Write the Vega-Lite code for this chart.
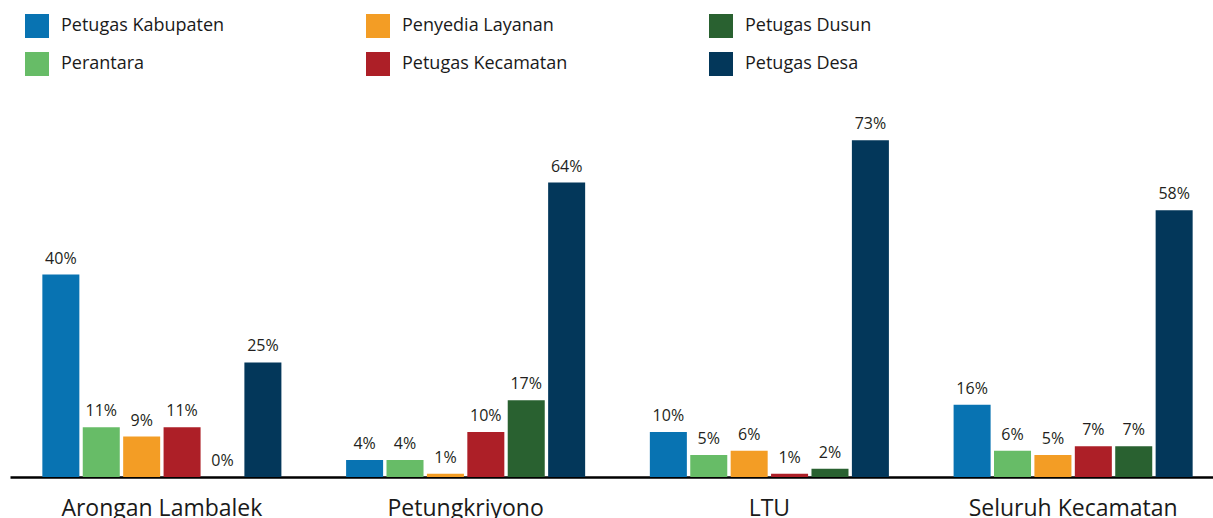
{
  "$schema": "https://vega.github.io/schema/vega-lite/v6.json",
  "width": 1215,
  "height": 368,
  "autosize": {"type": "none"},
  "padding": {"left": 10, "top": 109, "right": 0, "bottom": 41},
  "background": "white",
  "config": {"view": {"stroke": null}, "font": "Open Sans"},
  "data": {
    "values": [
      {"group": "Arongan Lambalek", "cat": "Petugas Kabupaten", "value": 44, "label": "40%"},
      {"group": "Arongan Lambalek", "cat": "Perantara", "value": 10.8, "label": "11%"},
      {"group": "Arongan Lambalek", "cat": "Penyedia Layanan", "value": 8.8, "label": "9%"},
      {"group": "Arongan Lambalek", "cat": "Petugas Kecamatan", "value": 10.8, "label": "11%"},
      {"group": "Arongan Lambalek", "cat": "Petugas Dusun", "value": 0, "label": "0%"},
      {"group": "Arongan Lambalek", "cat": "Petugas Desa", "value": 24.9, "label": "25%"},
      {"group": "Petungkriyono", "cat": "Petugas Kabupaten", "value": 3.7, "label": "4%"},
      {"group": "Petungkriyono", "cat": "Perantara", "value": 3.7, "label": "4%"},
      {"group": "Petungkriyono", "cat": "Penyedia Layanan", "value": 0.7, "label": "1%"},
      {"group": "Petungkriyono", "cat": "Petugas Kecamatan", "value": 9.8, "label": "10%"},
      {"group": "Petungkriyono", "cat": "Petugas Dusun", "value": 16.7, "label": "17%"},
      {"group": "Petungkriyono", "cat": "Petugas Desa", "value": 64, "label": "64%"},
      {"group": "LTU", "cat": "Petugas Kabupaten", "value": 9.8, "label": "10%"},
      {"group": "LTU", "cat": "Perantara", "value": 4.8, "label": "5%"},
      {"group": "LTU", "cat": "Penyedia Layanan", "value": 5.7, "label": "6%"},
      {"group": "LTU", "cat": "Petugas Kecamatan", "value": 0.7, "label": "1%"},
      {"group": "LTU", "cat": "Petugas Dusun", "value": 1.8, "label": "2%"},
      {"group": "LTU", "cat": "Petugas Desa", "value": 73.2, "label": "73%"},
      {"group": "Seluruh Kecamatan", "cat": "Petugas Kabupaten", "value": 15.7, "label": "16%"},
      {"group": "Seluruh Kecamatan", "cat": "Perantara", "value": 5.7, "label": "6%"},
      {"group": "Seluruh Kecamatan", "cat": "Penyedia Layanan", "value": 4.8, "label": "5%"},
      {"group": "Seluruh Kecamatan", "cat": "Petugas Kecamatan", "value": 6.7, "label": "7%"},
      {"group": "Seluruh Kecamatan", "cat": "Petugas Dusun", "value": 6.7, "label": "7%"},
      {"group": "Seluruh Kecamatan", "cat": "Petugas Desa", "value": 58, "label": "58%"}
    ]
  },
  "encoding": {
    "x": {
      "field": "group",
      "type": "nominal",
      "sort": ["Arongan Lambalek", "Petungkriyono", "LTU", "Seluruh Kecamatan"],
      "scale": {"paddingInner": 0.213, "paddingOuter": 0.1065},
      "axis": {
        "title": null,
        "labelAngle": 0,
        "ticks": false,
        "grid": false,
        "domainColor": "#000000",
        "domainWidth": 2.7,
        "labelFontSize": 23,
        "labelColor": "#1a1a1a",
        "labelPadding": 20,
        "labelLimit": 400
      }
    },
    "xOffset": {
      "field": "cat",
      "type": "nominal",
      "sort": ["Petugas Kabupaten", "Perantara", "Penyedia Layanan", "Petugas Kecamatan", "Petugas Dusun", "Petugas Desa"],
      "scale": {"paddingInner": 0.084, "paddingOuter": 0}
    },
    "y": {
      "field": "value",
      "type": "quantitative",
      "scale": {"domain": [0, 80], "nice": false, "zero": true},
      "axis": null
    }
  },
  "layer": [
    {
      "mark": {"type": "bar"},
      "encoding": {
        "color": {
          "field": "cat",
          "type": "nominal",
          "scale": {
            "domain": ["Petugas Kabupaten", "Perantara", "Penyedia Layanan", "Petugas Kecamatan", "Petugas Dusun", "Petugas Desa"],
            "range": ["#0873B2", "#67BC67", "#F39D25", "#AD1F27", "#296130", "#03375A"]
          },
          "legend": {
            "title": null,
            "orient": "none",
            "legendX": 15,
            "legendY": -95,
            "columns": 3,
            "padding": 0,
            "symbolType": "square",
            "symbolSize": 576,
            "symbolStrokeWidth": 0,
            "symbolOpacity": 1,
            "labelFontSize": 18,
            "labelColor": "#1a1a1a",
            "labelOffset": 12,
            "labelLimit": 300,
            "columnPadding": 141,
            "rowPadding": 14
          }
        }
      }
    },
    {
      "mark": {"type": "text", "dy": -11, "baseline": "alphabetic", "fontSize": 16, "color": "#231f20"},
      "encoding": {"text": {"field": "label"}}
    }
  ]
}
